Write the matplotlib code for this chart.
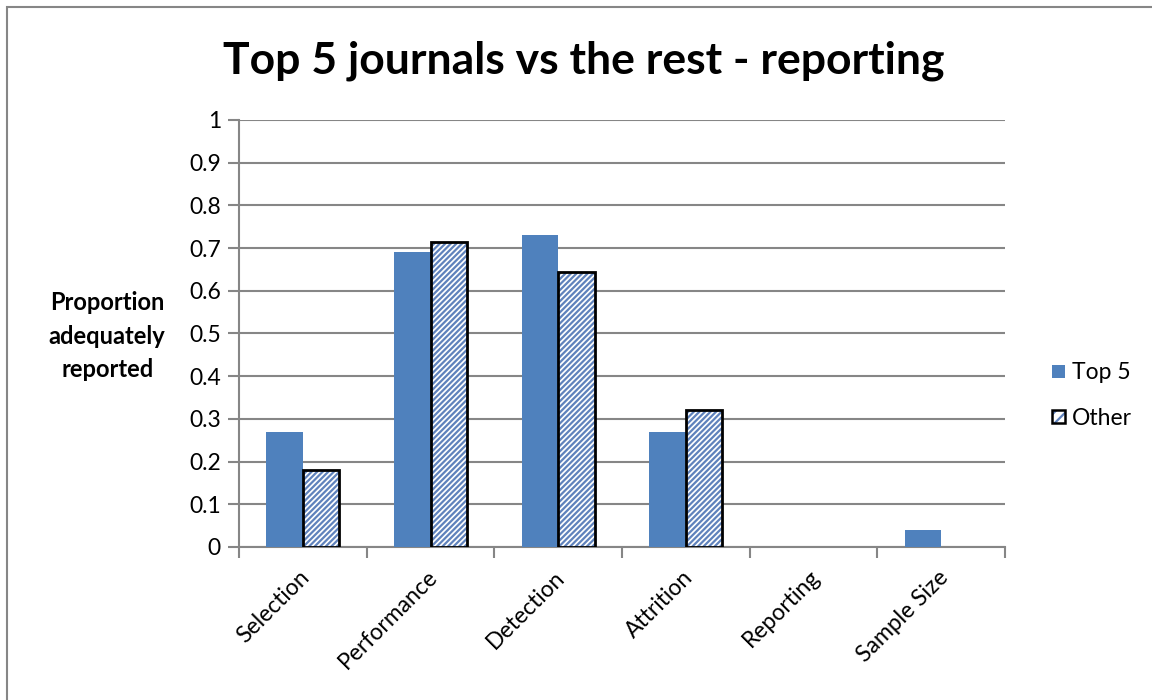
import matplotlib
matplotlib.use("Agg")
import matplotlib.pyplot as plt
from matplotlib.patches import Patch, Rectangle
from matplotlib.legend_handler import HandlerBase
from matplotlib.transforms import ScaledTranslation
import numpy as np

categories = ["Selection", "Performance", "Detection", "Attrition", "Reporting", "Sample Size"]
top5 = [0.27, 0.69, 0.73, 0.27, 0.0, 0.04]
other = [0.18, 0.714, 0.644, 0.32, 0.0, 0.0]
yticks = [0, 0.1, 0.2, 0.3, 0.4, 0.5, 0.6, 0.7, 0.8, 0.9, 1]
ytick_labels = ["0", "0.1", "0.2", "0.3", "0.4", "0.5", "0.6", "0.7", "0.8", "0.9", "1"]

BLUE = "#4F81BD"
HATCH_BLUE = "#5F82BC"
GRID = "#868686"
FONT = "Lato"

plt.rcParams["hatch.linewidth"] = 1.6

fig = plt.figure(figsize=(11.52, 7.0), dpi=100)
ax = fig.add_axes([0.2075, 0.2186, 0.6649, 0.61])

# outer chart frame
fig.patches.append(Rectangle((7 / 1152, -0.01), 1.2, 1 - 7 / 700 + 0.01,
                             transform=fig.transFigure, fill=False,
                             edgecolor="#868686", linewidth=1.5, zorder=0))

x = np.arange(len(categories))
w = 0.286
ax.bar(x - w / 2, top5, width=w, color=BLUE, linewidth=0, zorder=3)

# hatched bars: blue stripes on white, black outline on top
ax.bar(x + w / 2, other, width=w, facecolor="white", edgecolor=HATCH_BLUE,
       hatch="//////", linewidth=0, zorder=3)
for xi, v in zip(x, other):
    if v > 0:
        ax.add_patch(Rectangle((xi, 0), w, v, fill=False, edgecolor="black",
                               linewidth=2.0, zorder=4))

ax.set_xlim(-0.5, len(categories) - 0.5)
ax.set_ylim(0, 1)
ax.set_yticks(yticks)
ax.set_yticklabels(ytick_labels, fontsize=16.5, family=FONT)
ax.yaxis.grid(True, color=GRID, linewidth=1.5, zorder=0)
ax.set_axisbelow(True)

ax.set_xticks(np.arange(len(categories) + 1) - 0.5)
ax.set_xticklabels([])
ax.set_xticks(x, minor=True)
ax.set_xticklabels(categories, minor=True, rotation=45, ha="right",
                   rotation_mode="anchor", fontsize=16.5, family=FONT)
ax.tick_params(axis="x", which="minor", length=0, pad=14)
ax.tick_params(axis="x", which="major", length=8, width=1.5, color=GRID)
ax.tick_params(axis="y", length=8, width=1.5, color=GRID, pad=5)
shift = ScaledTranslation(-4 / 100, 0, fig.dpi_scale_trans)
for lbl in ax.get_xticklabels(minor=True):
    lbl.set_transform(lbl.get_transform() + shift)

for s in ["top", "right"]:
    ax.spines[s].set_visible(False)
for s in ["left", "bottom"]:
    ax.spines[s].set_color(GRID)
    ax.spines[s].set_linewidth(1.5)

fig.text(0.507, 0.913, "Top 5 journals vs the rest - reporting", ha="center",
         va="center", fontsize=32, fontweight="bold", family=FONT)
fig.text(0.093, 0.52, "Proportion\nadequately\nreported", ha="center",
         va="center", fontsize=17, fontweight="bold", family=FONT,
         linespacing=1.55)


class HatchHandler(HandlerBase):
    def create_artists(self, legend, orig_handle, xdescent, ydescent,
                       width, height, fontsize, trans):
        s = height * 0.85
        x0 = xdescent + width - s
        y0 = -ydescent + (height - s) / 2
        r1 = Rectangle((x0, y0), s, s, facecolor="white", edgecolor=HATCH_BLUE,
                       hatch="///", linewidth=0, transform=trans)
        r2 = Rectangle((x0, y0), s, s, fill=False, edgecolor="black",
                       linewidth=1.8, transform=trans)
        return [r1, r2]


class SquareHandler(HandlerBase):
    def create_artists(self, legend, orig_handle, xdescent, ydescent,
                       width, height, fontsize, trans):
        s = height * 0.85
        x0 = xdescent + width - s
        y0 = -ydescent + (height - s) / 2
        return [Rectangle((x0, y0), s, s, facecolor=BLUE, linewidth=0,
                          transform=trans)]


h1 = Patch(facecolor=BLUE)
h2 = Patch(facecolor="white")
fig.legend([h1, h2], ["Top 5", "Other"], loc="center left",
           bbox_to_anchor=(0.9, 0.435), frameon=False,
           prop={"family": FONT, "size": 16.5}, handlelength=0.75,
           handletextpad=0.3, labelspacing=1.05, borderpad=0,
           handler_map={h1: SquareHandler(), h2: HatchHandler()})

fig.savefig("out.png", dpi=100)
